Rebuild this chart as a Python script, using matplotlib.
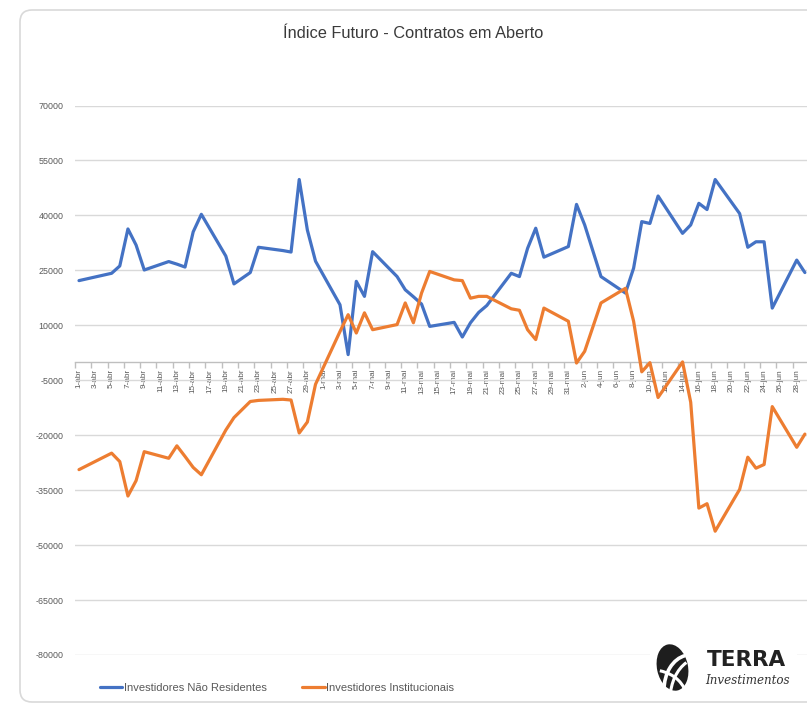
import matplotlib
matplotlib.use('Agg')
import matplotlib.pyplot as plt
import matplotlib.dates as mdates
import pandas as pd
from matplotlib.patches import FancyBboxPatch, Ellipse, Arc

# ---------------- data ----------------
dates = [
    "2021-04-01", "2021-04-05", "2021-04-06", "2021-04-07", "2021-04-08", "2021-04-09",
    "2021-04-12", "2021-04-13", "2021-04-14", "2021-04-15", "2021-04-16",
    "2021-04-19", "2021-04-20", "2021-04-22", "2021-04-23",
    "2021-04-26", "2021-04-27", "2021-04-28", "2021-04-29", "2021-04-30",
    "2021-05-03", "2021-05-04", "2021-05-05", "2021-05-06", "2021-05-07",
    "2021-05-10", "2021-05-11", "2021-05-12", "2021-05-13", "2021-05-14",
    "2021-05-17", "2021-05-18", "2021-05-19", "2021-05-20", "2021-05-21",
    "2021-05-24", "2021-05-25", "2021-05-26", "2021-05-27", "2021-05-28",
    "2021-05-31", "2021-06-01", "2021-06-02", "2021-06-04",
    "2021-06-07", "2021-06-08", "2021-06-09", "2021-06-10", "2021-06-11",
    "2021-06-14", "2021-06-15", "2021-06-16", "2021-06-17", "2021-06-18",
    "2021-06-21", "2021-06-22", "2021-06-23", "2021-06-24", "2021-06-25",
    "2021-06-28", "2021-06-29",
]

nao_residentes = [
    22200, 24200, 26200, 36300, 31900, 25100,
    27400, 26700, 25900, 35500, 40300,
    28900, 21300, 24400, 31300,
    30400, 30000, 49800, 36000, 27500,
    15600, 2000, 22000, 17900, 30100,
    23300, 19700, 17800, 15800, 9700,
    10800, 6800, 10700, 13500, 15400,
    24200, 23300, 31000, 36500, 28600,
    31500, 43000, 37400, 23300,
    18800, 25600, 38300, 37800, 45300,
    35100, 37400, 43300, 41600, 49800,
    40500, 31300, 32800, 32800, 14700,
    27800, 24400,
]

institucionais = [
    -29400, -24900, -27200, -36600, -32400, -24500,
    -26300, -22900, -25800, -28800, -30800,
    -18600, -15200, -10800, -10500,
    -10200, -10400, -19400, -16400, -6100,
    8300, 12900, 7900, 13400, 8800,
    10200, 16100, 10700, 18800, 24700,
    22400, 22200, 17400, 17900, 17900,
    14500, 14100, 8800, 6100, 14700,
    11100, -300, 2900, 16100,
    20100, 11100, -2700, -200, -9700,
    0, -11000, -39900, -38700, -46200,
    -34800, -26000, -29000, -28000, -12200,
    -23300, -19700,
]

series_names = ["Investidores Não Residentes", "Investidores Institucionais"]
title = "Índice Futuro - Contratos em Aberto"
month_abbr = {4: "abr", 5: "mai", 6: "jun"}
y_ticks = list(range(-80000, 70001, 15000))

# ---------------- figure ----------------
W, H = 807, 704
fig = plt.figure(figsize=(W / 100, H / 100), dpi=100)
plt.rcParams['font.family'] = ['Liberation Sans', 'DejaVu Sans']

def fx(px):
    return px / W

def fy(py):
    return 1 - py / H

# background with rounded frame (pixel coordinates)
bg = fig.add_axes([0, 0, 1, 1], zorder=-5)
bg.set_xlim(0, W)
bg.set_ylim(H, 0)
bg.axis('off')
bg.add_patch(FancyBboxPatch((20, 10), 830, 692,
                            boxstyle="round,pad=0,rounding_size=12",
                            fc='white', ec='#d9d9d9', lw=1.2))

# main axes
ppd = 8.156          # pixels per day
x_first = 79.0       # pixel of first date
start = pd.Timestamp(dates[0])
t0 = mdates.date2num(start)
left_px = x_first - 0.5 * ppd
right_px = 807
ax = fig.add_axes([fx(left_px), fy(655), (right_px - left_px) / W, (655 - 105.5) / H])
ax.set_facecolor('none')
ax.set_xlim(t0 - 0.5, t0 + (right_px - x_first) / ppd)
ax.set_ylim(-80000, 70000)

xd = mdates.date2num(pd.to_datetime(dates))
l1, = ax.plot(xd, nao_residentes, color='#4472C4', lw=2.3, solid_joinstyle='round',
              solid_capstyle='round', label=series_names[0], zorder=3)
l2, = ax.plot(xd, institucionais, color='#ED7D31', lw=2.3, solid_joinstyle='round',
              solid_capstyle='round', label=series_names[1], zorder=3)

# spines
for s in ['top', 'right', 'left']:
    ax.spines[s].set_visible(False)
ax.spines['bottom'].set_position(('data', 0))
ax.spines['bottom'].set_color('#bfbfbf')
ax.spines['bottom'].set_linewidth(1.0)

# x ticks: marks between days, labels every 2 days
label_days = pd.date_range("2021-04-01", "2021-06-28", freq="2D")
label_pos = mdates.date2num(label_days)
label_txt = [f"{d.day}-{month_abbr[d.month]}" for d in label_days]
ax.set_xticks(label_pos - 0.5)
ax.set_xticklabels([])
ax.set_xticks(label_pos, labels=label_txt, minor=True)
ax.tick_params(axis='x', which='major', length=4, width=1, color='#bfbfbf', direction='out')
ax.tick_params(axis='x', which='minor', length=0, pad=5, labelrotation=90,
               labelsize=5.9, labelcolor='#595959')

# y ticks
ax.set_yticks(y_ticks)
ax.set_yticklabels([str(v) for v in y_ticks])
ax.tick_params(axis='y', length=0, pad=8, labelsize=6.4, labelcolor='#595959')
ax.yaxis.grid(True, color='#d9d9d9', lw=1.0)
ax.xaxis.grid(False)
ax.set_axisbelow(True)

# title
fig.text(fx(413.5), fy(33), title, ha='center', va='center', fontsize=11.8,
         color='#3a3a3a')

# legend
fig.legend(handles=[l1, l2], loc='center left', bbox_to_anchor=(fx(100), fy(688)),
           ncol=2, frameon=False, fontsize=8.0, handlelength=2.0, handletextpad=0.15,
           columnspacing=3.2, borderpad=0, borderaxespad=0, labelcolor='#595959')

# logo
lg = fig.add_axes([fx(650), fy(699), 147 / W, 58 / H], zorder=5)
lg.set_xlim(650, 797)
lg.set_ylim(699, 641)
lg.set_facecolor('white')
for s in lg.spines.values():
    s.set_visible(False)
lg.set_xticks([])
lg.set_yticks([])
lg.add_patch(Ellipse((672.5, 667.5), 31, 47, angle=-12, fc='#1e1e1e', ec='none'))
lg.add_patch(Arc((690, 690), 52, 70, angle=0, theta1=180, theta2=262, color='white', lw=2.6))
lg.add_patch(Arc((700, 700), 60, 84, angle=0, theta1=185, theta2=250, color='white', lw=2.2))
lg.add_patch(Arc((652, 700), 70, 60, angle=0, theta1=285, theta2=355, color='white', lw=2.2))
lg.text(746.5, 660, "TERRA", ha='center', va='center', fontsize=15.5, fontweight='bold',
        color='#222222', family='DejaVu Sans')
lg.text(747.5, 681, "Investimentos", ha='center', va='center', fontsize=8.6,
        style='italic', color='#333333', family='DejaVu Serif')

fig.savefig('out.png', dpi=100)
